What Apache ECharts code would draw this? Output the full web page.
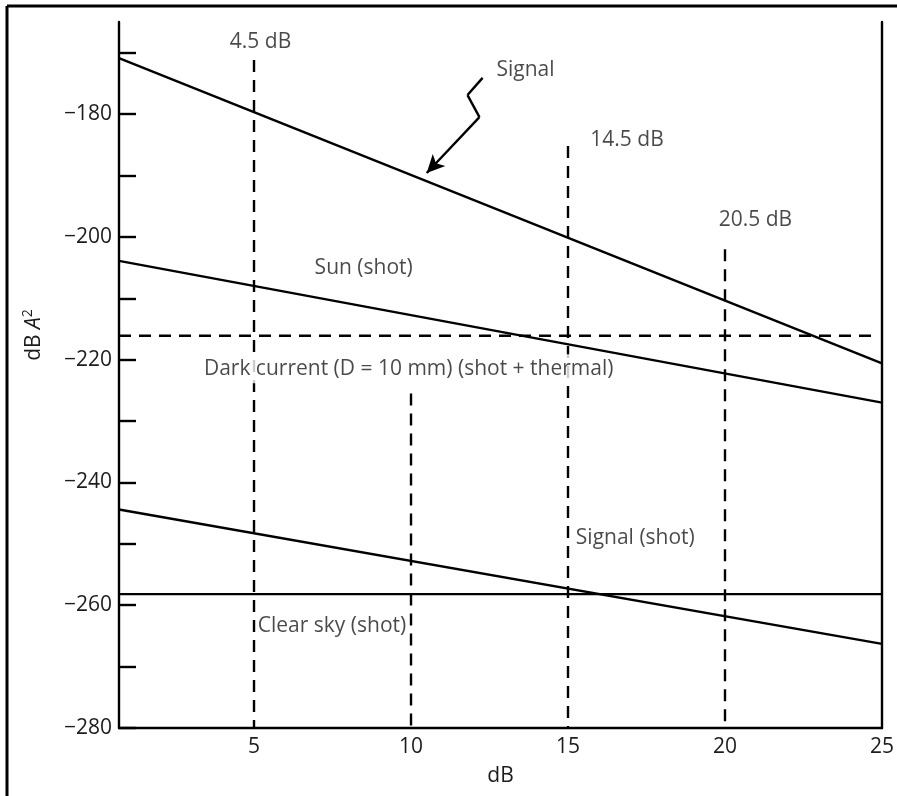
<!DOCTYPE html>
<html>
<head>
<meta charset="utf-8">
<script src="https://cdn.jsdelivr.net/npm/echarts@6/dist/echarts.min.js"></script>
<style>
    html, body {margin: 0; padding: 0; background: #fff;}
    #main {width: 897px; height: 796px;}
</style>
</head>
<body>
<div id="main"></div>
<script>
// x range of the plot (dB)
var xRange = [0.7, 25];
var xTicks = [5, 10, 15, 20, 25];
var yTicks = [-280, -270, -260, -250, -240, -230, -220, -210, -200, -190, -180, -170];
var yLabels = [-280, -260, -240, -220, -200, -180];

// solid lines: value at left edge, value at right edge
var signalY = [-170.9, -220.6];
var sunY = [-203.9, -227.0];
var signalShotY = [-244.4, -266.3];
var clearSkyY = [-258.2, -258.2];

// dashed dark current level
var darkX = [0.7, 24.75];
var darkY = [-216.1, -216.1];

// vertical dashed markers and where they start
var markerX = [5, 10, 15, 20];
var markerTop = [-171.2, -225.5, -185.2, -202.0];

// notes
var noteText = ['4.5 dB', 'Signal', '14.5 dB', '20.5 dB', 'Sun (shot)',
    'Dark current (D = 10 mm) (shot + thermal)', 'Signal (shot)', 'Clear sky (shot)'];
var noteX = [4.23, 12.72, 15.71, 19.8, 6.93, 3.34, 15.25, 5.12];
var noteY = [-168.3, -172.8, -184.2, -197.2, -205.1, -221.5, -249.0, -263.4];

// zigzag arrow pointing at the Signal line
var arrowX = [12.28, 11.80, 12.18, 10.50];
var arrowY = [-174.1, -176.9, -180.5, -189.6];

window.onload = function () {
    init();
};

function init() {
    var myChart = echarts.init(document.getElementById('main'));
    var ink = '#000';
    var textColor = '#1c1c1c';
    var font = '"Open Sans", sans-serif';
    var lw = 2.4;

    function seg(ys) {
        return [[xRange[0], ys[0]], [xRange[1], ys[1]]];
    }

    var series = [];
    series.push(solid('Signal', seg(signalY)));
    series.push(solid('Sun (shot)', seg(sunY)));
    series.push(solid('Signal (shot)', seg(signalShotY)));
    series.push(solid('Clear sky (shot)', seg(clearSkyY)));
    series.push(dashed('Dark current', [[darkX[0], darkY[0]], [darkX[1], darkY[1]]]));
    for (var i = 0; i < markerX.length; i++) {
        series.push(dashed('marker' + i, [[markerX[i], markerTop[i]], [markerX[i], -280]]));
    }

    // arrow made of markLine segments, arrow head on the last one
    var arrowSegs = [];
    for (var j = 0; j < arrowX.length - 1; j++) {
        var last = j === arrowX.length - 2;
        arrowSegs.push([
            {coord: [arrowX[j], arrowY[j]], symbol: 'none'},
            {coord: [arrowX[j + 1], arrowY[j + 1]], symbol: last ? 'arrow' : 'none', symbolSize: [13, 18]}
        ]);
    }
    series[0].markLine = {
        silent: true,
        symbol: ['none', 'none'],
        label: {show: false},
        lineStyle: {color: ink, width: lw, type: 'solid'},
        emphasis: {disabled: true},
        data: arrowSegs
    };

    var notes = [];
    for (var k = 0; k < noteText.length; k++) {
        var item = {value: [noteX[k], noteY[k], noteText[k]]};
        if (k === 5) {
            // dashed lines break behind this text
            item.label = {backgroundColor: '#fff', padding: [4, 2]};
        }
        notes.push(item);
    }
    series.push({
        type: 'scatter',
        symbolSize: 0,
        z: 10,
        silent: true,
        data: notes,
        label: {
            show: true,
            position: 'right',
            distance: 0,
            color: textColor,
            fontFamily: font,
            fontSize: 21,
            formatter: function (p) {
                return p.data.value[2];
            }
        }
    });

    var option = {
        animation: false,
        backgroundColor: '#fff',
        grid: {left: 119, right: 14, top: 22, bottom: 68},
        xAxis: {
            type: 'value',
            min: xRange[0],
            max: xRange[1],
            name: 'dB',
            nameLocation: 'middle',
            nameGap: 38,
            nameTextStyle: {color: textColor, fontFamily: font, fontSize: 21},
            axisLine: {lineStyle: {color: ink, width: lw}},
            axisTick: {show: false},
            splitLine: {show: false},
            axisLabel: {
                customValues: xTicks,
                margin: 9,
                color: textColor,
                fontFamily: font,
                fontSize: 21
            }
        },
        yAxis: [{
            type: 'value',
            min: -280,
            max: -165,
            name: '{n|dB }{i|A}{s|2}',
            nameLocation: 'middle',
            nameGap: 72,
            nameTextStyle: {
                color: textColor,
                fontFamily: font,
                fontSize: 21,
                padding: [0, 0, 0, 80],
                rich: {
                    n: {fontFamily: font, fontSize: 21, color: textColor},
                    i: {fontFamily: font, fontSize: 21, fontStyle: 'italic', color: textColor},
                    s: {fontFamily: font, fontSize: 14, color: textColor, padding: [0, 0, 12, 0]}
                }
            },
            axisLine: {show: true, lineStyle: {color: ink, width: lw}},
            axisTick: {
                show: true,
                inside: true,
                length: 17,
                customValues: yTicks,
                lineStyle: {color: ink, width: lw}
            },
            splitLine: {show: false},
            axisLabel: {
                customValues: yLabels,
                margin: 7,
                color: textColor,
                fontFamily: font,
                fontSize: 21,
                formatter: function (v) {
                    return String(v).replace('-', '\u2212');
                }
            }
        }, {
            type: 'value',
            position: 'right',
            min: -280,
            max: -165,
            axisLine: {show: true, lineStyle: {color: ink, width: lw}},
            axisTick: {show: false},
            axisLabel: {show: false},
            splitLine: {show: false}
        }],
        graphic: [
            {type: 'line', shape: {x1: 7, y1: 6, x2: 897, y2: 6}, style: {stroke: '#000', lineWidth: 3}},
            {type: 'line', shape: {x1: 7, y1: 6, x2: 7, y2: 796}, style: {stroke: '#000', lineWidth: 3}}
        ],
        series: series
    };
    myChart.setOption(option);

    function solid(name, data) {
        return {
            name: name,
            type: 'line',
            data: data,
            symbol: 'none',
            silent: true,
            z: 3,
            lineStyle: {color: ink, width: lw}
        };
    }

    function dashed(name, data) {
        return {
            name: name,
            type: 'line',
            data: data,
            symbol: 'none',
            silent: true,
            z: 2,
            lineStyle: {color: ink, width: lw, type: [12, 8]}
        };
    }
}
</script>
</body>
</html>
